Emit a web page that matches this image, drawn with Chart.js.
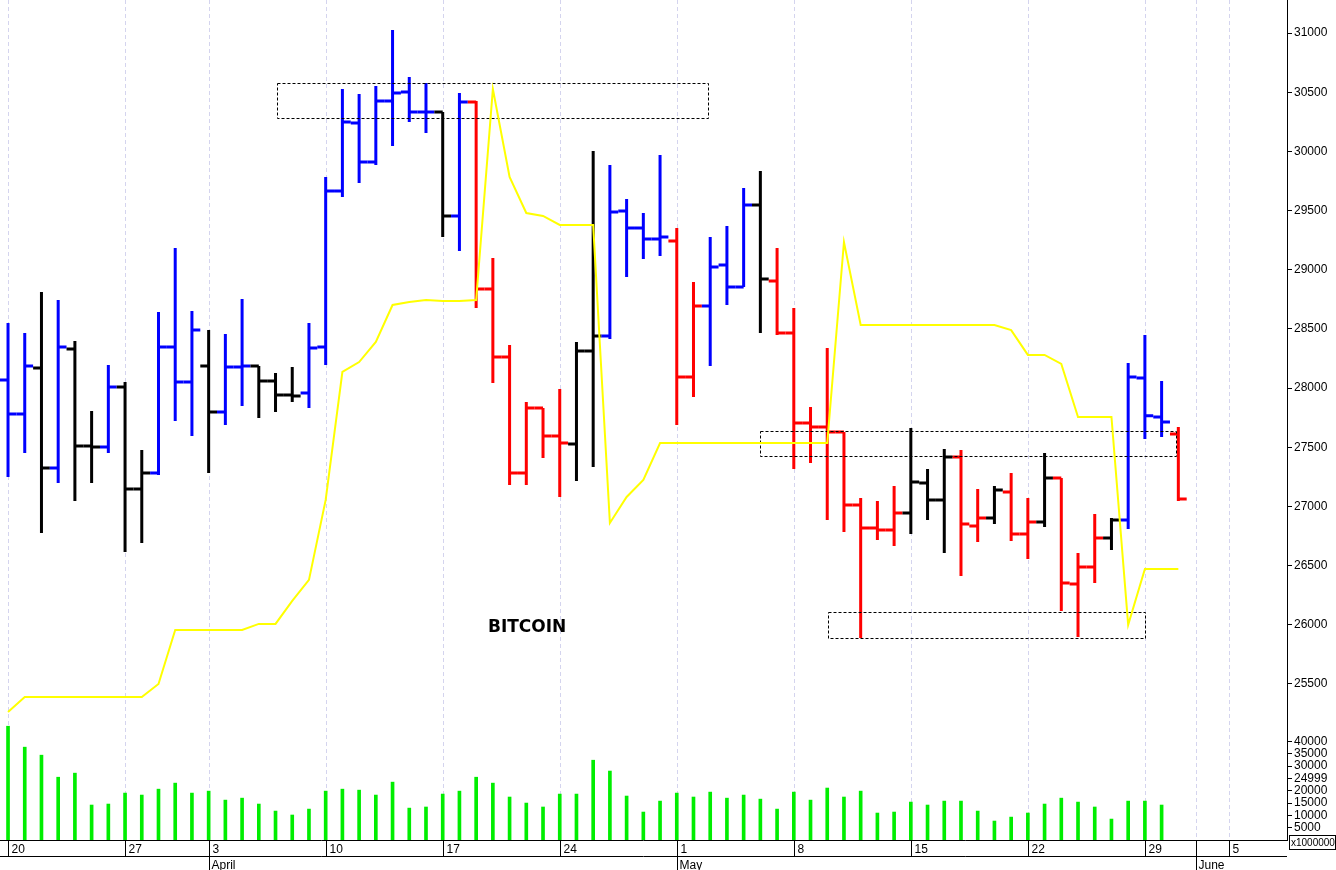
<!DOCTYPE html>
<html><head><meta charset="utf-8">
<script src="https://cdn.jsdelivr.net/npm/chart.js@4/dist/chart.umd.min.js"></script>
<style>html,body{margin:0;padding:0;background:#fff}canvas{display:block}</style>
</head><body>
<canvas id="c" width="1336" height="870"></canvas>
<script>
const opens =[28068,27781,28170,27325,28330,27511,27502,28009,27147,27283,28347,28052,28187,27798,28178,28187,28060,27942,27959,28347,29665,30240,29910,30426,30502,30333,30333,29454,30417,28837,28263,27283,27832,27595,27528,28313,28440,29496,29353,29260,29243,28094,28694,29040,28854,29547,28905,28465,27705,27671,27629,27012,26818,26801,26944,27198,27054,27418,26835,26903,27122,26767,26869,27240,26345,26488,26733,26886,28085,27756,27612];
const highs =[28550,28466,28812,28744,28398,27806,28195,28052,27477,28643,29184,28651,28491,28457,28753,28187,28127,28178,28550,29784,30527,30485,30552,31025,30628,30578,30333,30493,30426,29099,28364,27882,27832,27992,28389,30003,29885,29598,29479,29969,29353,28896,29277,29370,29691,29834,29184,28677,27840,28339,27629,27071,27046,27173,27663,27316,27485,27477,27147,27173,27283,27071,27451,27240,26607,26936,26903,28212,28449,28060,27671];
const lows  =[27249,27452,26776,27198,27046,27198,27452,26615,26691,27266,27722,27595,27283,27688,27849,27747,27798,27882,27832,28195,29615,29733,29885,30046,30248,30155,29277,29158,28677,28043,27181,27181,27409,27080,27215,27333,28415,28939,29091,29116,27688,27925,28187,28702,28854,28465,28448,27316,27367,26886,26784,25889,26716,26666,26767,26886,26607,26412,26700,26852,26708,26556,26826,26117,25897,26353,26632,26809,27570,27587,27046];
const closes=[27781,28187,27325,28347,27511,27502,28009,27147,27283,28347,28052,28491,27798,28178,28187,28060,27942,27933,28339,29665,30248,29910,30426,30493,30333,30333,29454,30417,28837,28263,27283,27832,27595,27536,28313,28440,29488,29353,29260,29277,28094,28694,29023,28854,29547,28922,28465,27705,27671,27629,27012,26818,26801,26944,27207,27054,27418,26852,26903,27139,26767,26869,27240,26353,26488,26733,26886,28094,27765,27713,27063];
const signals=["u","u","n","u","n","n","u","n","n","u","u","u","n","u","u","n","n","n",
 "u","u","u","u","u","u","u","u","n","u","d","d","d","d","d","d","n","n","u","u","u","u",
 "d","d","u","u","u","n","d","d","d","d","d","d","d","d","n","n","n","d","d","n","d","d",
 "n","d","d","d","n","u","u","u","d"];
const trendLine=[25263,25390,25390,25390,25390,25390,25390,25390,25390,25500,25956,25956,25956,25956,25956,26007,26007,26201,26379,27055,28136,28220,28390,28702,28728,28744,28736,28736,28744,30527,29784,29479,29454,29378,29378,29378,26860,27080,27224,27536,27536,27536,27536,27536,27536,27536,27536,27536,27536,27536,29234,28533,28533,28533,28533,28533,28533,28533,28533,28533,28490,28280,28280,28204,27756,27756,27756,26000,26471,26471,26471];
const volumes=[46200,37700,34450,25500,27150,14200,14600,19050,18250,20650,23100,19050,19850,16200,17000,14600,11750,10150,12550,19850,20650,20250,18250,23500,12950,13400,18650,19850,25500,23100,17450,15000,13400,18650,18650,32400,28000,17850,11350,15800,19050,17450,19450,17000,18250,16600,12550,19450,16200,21100,17450,19850,10950,11350,15400,14200,15800,15800,11750,7700,9300,10950,14600,17000,15400,13400,8500,15800,15800,14200,null];
const dayTickPos=[0,7,12,19,26,33,40,47,54,61,68,73.03];
const dayTickLabels=['20','27','3','10','17','24','1','8','15','22','29','5'];
const monthPos=[12,40,71.05];
const monthLabels=['April','May','June'];
const priceTicks=[25500,26000,26500,27000,27500,28000,28500,29000,29500,30000,30500,31000];
const volTicks=[5000,10000,15000,20000,25000,30000,35000,40000];
const volTickLabels=['5000','10000','15000','20000','24999','30000','35000','40000'];
// boxes: [startIndex, endIndex, topPrice, bottomPrice]
const boxes=[[16.1,41.9,30578,30282],[45,69.9,27637,27426],[49.05,68,26108,25888]];
const titleText='BITCOIN', titleAt=[31.05,25973];

const colorMap={u:'#0000ff',d:'#ff0000',n:'#000000'};
const idx=opens.map((_,i)=>i);

const ohlcPlugin={id:'ohlc',
 beforeDatasetsDraw(ch){
  const c=ch.ctx,x=ch.scales.x,y=ch.scales.y,a=ch.chartArea;
  c.save();
  c.strokeStyle='#d4d4ee';c.lineWidth=1;c.setLineDash([4,3]);
  dayTickPos.concat([monthPos[2]]).forEach(p=>{const px=Math.round(x.getPixelForValue(p))+0.5;c.beginPath();c.moveTo(px,a.top);c.lineTo(px,a.bottom);c.stroke();});
  c.setLineDash([]);
  c.lineWidth=3;c.lineCap='butt';
  idx.forEach(i=>{
   const px=x.getPixelForValue(i),hw=(x.getPixelForValue(1)-x.getPixelForValue(0))/2;
   c.strokeStyle=colorMap[signals[i]];
   c.beginPath();
   c.moveTo(px,y.getPixelForValue(highs[i]));c.lineTo(px,y.getPixelForValue(lows[i]));
   const yo=y.getPixelForValue(opens[i]),yc=y.getPixelForValue(closes[i]);
   c.moveTo(px-hw,yo);c.lineTo(px,yo);
   c.moveTo(px,yc);c.lineTo(px+hw,yc);
   c.stroke();
  });
  c.strokeStyle='#000';c.lineWidth=1;c.setLineDash([3,2]);
  boxes.forEach(b=>{const x0=x.getPixelForValue(b[0]),x1=x.getPixelForValue(b[1]),y0=y.getPixelForValue(b[2]),y1=y.getPixelForValue(b[3]);
   c.strokeRect(Math.round(x0)+0.5,Math.round(y0)+0.5,Math.round(x1-x0),Math.round(y1-y0));});
  c.setLineDash([]);
  c.fillStyle='#000';c.font='bold 17px "DejaVu Sans", Verdana';c.textAlign='center';c.textBaseline='middle';
  c.fillText(titleText,x.getPixelForValue(titleAt[0]),y.getPixelForValue(titleAt[1]));
  c.restore();
 },
 afterDraw(ch){
  const c=ch.ctx,x=ch.scales.x,a=ch.chartArea;
  c.save();
  c.strokeStyle='#000';c.lineWidth=1;
  c.beginPath();c.moveTo(0,a.bottom+0.5);c.lineTo(a.right,a.bottom+0.5);
  c.moveTo(0,a.bottom+16.5);c.lineTo(a.right,a.bottom+16.5);c.stroke();
  c.fillStyle='#000';c.font='12px "Liberation Sans", Arial';c.textAlign='left';c.textBaseline='alphabetic';
  dayTickPos.forEach((p,k)=>{const px=Math.round(x.getPixelForValue(p))+0.5;
   c.beginPath();c.moveTo(px,a.bottom);c.lineTo(px,a.bottom+16);c.stroke();
   c.fillText(dayTickLabels[k],px+3,a.bottom+13);});
  monthPos.forEach((p,k)=>{const px=Math.round(x.getPixelForValue(p))+0.5;
   c.beginPath();c.moveTo(px,a.bottom);c.lineTo(px,870);c.stroke();
   c.fillText(monthLabels[k],px+2,a.bottom+29);});
  c.fillStyle='#fff';c.fillRect(a.right+2,a.bottom-5,46,14);
  c.strokeRect(a.right+2.5,a.bottom-4.5,46,14);
  c.fillStyle='#000';c.font='10px "Liberation Sans", Arial';c.fillText('x1000000',a.right+4,a.bottom+6);
  c.restore();
 }};

const fitY=s=>{s.width=49;s.paddingTop=0;s.paddingBottom=0;};
new Chart(document.getElementById('c'),{
 type:'bar',
 data:{datasets:[
  {type:'line',data:idx.map(i=>({x:i,y:trendLine[i]})),borderColor:'#ffff00',borderWidth:2,pointRadius:0,tension:0,yAxisID:'y',order:0},
  {type:'bar',data:idx.map(i=>({x:i,y:volumes[i]})),backgroundColor:'#00ee00',barThickness:3,yAxisID:'yv',order:1}
 ]},
 options:{responsive:false,animation:false,devicePixelRatio:1,
  layout:{padding:{left:0,right:0,top:0,bottom:30}},
  plugins:{legend:{display:false},tooltip:{enabled:false}},
  scales:{
   x:{type:'linear',min:-0.48,max:76.5,offset:false,display:false},
   y:{position:'right',stack:'s',stackWeight:725,min:25153,max:31279,
      afterBuildTicks:s=>{s.ticks=priceTicks.map(v=>({value:v}));},
      afterFit:fitY,
      grid:{drawOnChartArea:false,tickLength:5,color:'#000'},border:{color:'#000'},
      ticks:{color:'#000',font:{family:'"Liberation Sans", Arial',size:12},padding:2,callback:v=>String(v)}},
   yv:{position:'right',stack:'s',stackWeight:115,min:0,max:46700,
      afterBuildTicks:s=>{s.ticks=volTicks.map(v=>({value:v}));},
      afterFit:fitY,
      grid:{drawOnChartArea:false,tickLength:5,color:'#000'},border:{color:'#000'},
      ticks:{color:'#000',font:{family:'"Liberation Sans", Arial',size:12},padding:2,autoSkip:false,
        callback:v=>volTickLabels[volTicks.indexOf(v)]}}
  }},
 plugins:[ohlcPlugin]
});
</script></body></html>
